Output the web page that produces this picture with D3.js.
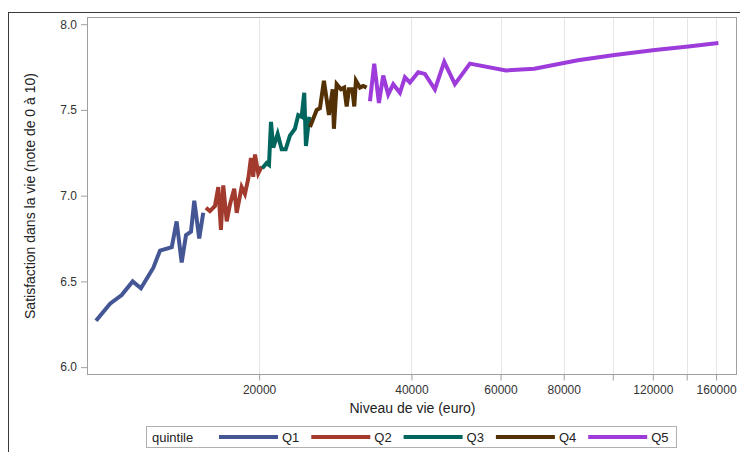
<!DOCTYPE html>
<html>
<head>
<meta charset="utf-8">
<script src="https://cdn.jsdelivr.net/npm/d3@7/dist/d3.min.js"></script>
<style>
  body { margin: 0; background: #fff; }
  svg text { font-family: "Liberation Sans", Arial, sans-serif; }
</style>
</head>
<body>
<div id="chart"></div>
<script>
// --- DATA ---
const quintiles = ["Q1", "Q2", "Q3", "Q4", "Q5"];
const colors = ["#445694", "#A23A2E", "#01665E", "#543005", "#9D3CDB"];

const q1Income = [9520, 10150, 10700, 11250, 11680, 12360, 12740, 13440, 13740, 14060, 14340, 14670, 14890, 15230, 15510];
const q1Satisf = [6.27, 6.37, 6.42, 6.50, 6.46, 6.58, 6.68, 6.70, 6.85, 6.61, 6.77, 6.79, 6.97, 6.75, 6.90];

const q2Income = [15700, 15990, 16360, 16610, 16810, 16990, 17260, 17520, 17860, 18060, 18470, 18750, 19040, 19270, 19470, 19630, 19920, 20230];
const q2Satisf = [6.93, 6.91, 6.94, 7.05, 6.80, 7.06, 6.85, 6.95, 7.04, 6.90, 7.05, 7.01, 7.10, 7.22, 7.11, 7.24, 7.13, 7.17];

const q3Income = [20290, 20700, 20920, 21110, 21330, 21760, 22160, 22570, 23010, 23540, 23900, 24270, 24560, 24750, 25130];
const q3Satisf = [7.16, 7.19, 7.18, 7.43, 7.28, 7.36, 7.27, 7.27, 7.35, 7.39, 7.47, 7.46, 7.60, 7.29, 7.46];

const q4Income = [25210, 25990, 26380, 26860, 27480, 27950, 28110, 28460, 29020, 29460, 29790, 30100, 30560, 30840, 31070, 31640, 32120, 32620];
const q4Satisf = [7.40, 7.50, 7.51, 7.67, 7.47, 7.62, 7.39, 7.65, 7.62, 7.63, 7.52, 7.62, 7.62, 7.52, 7.67, 7.63, 7.64, 7.63];

const q5Income = [33120, 33770, 34500, 35180, 35990, 36820, 37960, 38830, 39730, 41250, 42530, 44510, 46440, 48750, 52190, 61480, 69960, 85320, 100800, 121100, 141100, 161700];
const q5Satisf = [7.55, 7.77, 7.54, 7.70, 7.59, 7.65, 7.60, 7.69, 7.66, 7.72, 7.71, 7.62, 7.78, 7.65, 7.77, 7.73, 7.74, 7.79, 7.82, 7.85, 7.87, 7.89];

const xTickValues = [20000, 40000, 60000, 80000, 100000, 120000, 140000, 160000];
const xTickLabels = ["20000", "40000", "60000", "80000", "", "120000", "", "160000"];
const yTickValues = [6.0, 6.5, 7.0, 7.5, 8.0];

const incomes = [q1Income, q2Income, q3Income, q4Income, q5Income];
const satisf = [q1Satisf, q2Satisf, q3Satisf, q4Satisf, q5Satisf];

// --- SETUP ---
const width = 740, height = 452;
const plot = { left: 88, right: 737, top: 17.5, bottom: 374.5 };

const svg = d3.select("#chart").append("svg")
  .attr("width", width).attr("height", height);

// outer border
svg.append("rect")
  .attr("x", 8.5).attr("y", 12.5)
  .attr("width", 760).attr("height", 460)
  .attr("fill", "none").attr("stroke", "#3a3a3a");

// --- SCALES ---
const x = d3.scaleLog().domain([9180, 176000]).range([plot.left, plot.right]);
const y = d3.scaleLinear().domain([5.957, 8.039]).range([plot.bottom, plot.top]);

// gridlines
svg.append("g").selectAll("line")
  .data(xTickValues).enter().append("line")
  .attr("x1", d => Math.round(x(d)) + 0.5).attr("x2", d => Math.round(x(d)) + 0.5)
  .attr("y1", plot.top).attr("y2", plot.bottom)
  .attr("stroke", "#e6e6e6");

// --- AXES ---
const xAxis = svg.append("g")
  .attr("transform", `translate(0,${plot.bottom})`)
  .call(d3.axisBottom(x).tickValues(xTickValues)
    .tickFormat((d, i) => xTickLabels[i]).tickSize(6).tickPadding(5));
xAxis.select(".domain").remove();
xAxis.selectAll("line").attr("stroke", "#a0a0a0");
xAxis.selectAll("text").attr("fill", "#333").style("font-size", "12px");

const yAxis = svg.append("g")
  .attr("transform", `translate(${plot.left},0)`)
  .call(d3.axisLeft(y).tickValues(yTickValues)
    .tickFormat(d3.format(".1f")).tickSize(7).tickPadding(4));
yAxis.select(".domain").remove();
yAxis.selectAll("line").attr("stroke", "#a0a0a0");
yAxis.selectAll("text").attr("fill", "#333").style("font-size", "12px");

// plot frame
svg.append("rect")
  .attr("x", plot.left - 0.5).attr("y", plot.top)
  .attr("width", plot.right - plot.left).attr("height", plot.bottom - plot.top)
  .attr("fill", "none").attr("stroke", "#a0a0a0");

// axis labels
svg.append("text")
  .attr("x", (plot.left + plot.right) / 2).attr("y", 413)
  .attr("text-anchor", "middle").attr("fill", "#222")
  .style("font-size", "14px")
  .text("Niveau de vie (euro)");

svg.append("text")
  .attr("transform", `translate(35,${(plot.top + plot.bottom) / 2}) rotate(-90)`)
  .attr("text-anchor", "middle").attr("fill", "#222")
  .style("font-size", "14px")
  .text("Satisfaction dans la vie (note de 0 à 10)");

// --- LINES ---
const line = d3.line().x(d => x(d[0])).y(d => y(d[1]));

quintiles.forEach((q, i) => {
  const pts = incomes[i].map((v, j) => [v, satisf[i][j]]);
  svg.append("path")
    .datum(pts)
    .attr("d", line)
    .attr("fill", "none")
    .attr("stroke", colors[i])
    .attr("stroke-width", 4)
    .attr("stroke-linejoin", "miter");
});

// --- LEGEND ---
const legend = svg.append("g");
legend.append("rect")
  .attr("x", 146.5).attr("y", 426.5).attr("width", 530).attr("height", 21)
  .attr("fill", "#fff").attr("stroke", "#b0b0b0");
legend.append("text")
  .attr("x", 152).attr("y", 442)
  .attr("fill", "#222").style("font-size", "13px")
  .text("quintile");

quintiles.forEach((q, i) => {
  const x0 = 219 + i * 92.3;
  legend.append("line")
    .attr("x1", x0).attr("x2", x0 + 59)
    .attr("y1", 437).attr("y2", 437)
    .attr("stroke", colors[i]).attr("stroke-width", 4);
  legend.append("text")
    .attr("x", x0 + 63).attr("y", 442)
    .attr("fill", "#222").style("font-size", "13px")
    .text(q);
});
</script>
</body>
</html>
